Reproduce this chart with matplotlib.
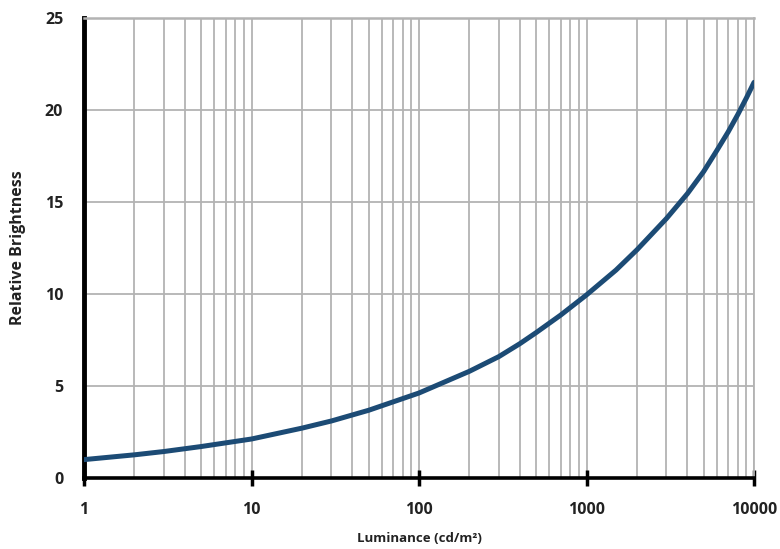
import matplotlib.pyplot as plt
import matplotlib.ticker as mticker

# -------------------------
# Data
# -------------------------
luminance = [1, 2, 3, 5, 10, 20, 30, 50, 100, 200, 300, 400, 500, 700,
             1000, 1500, 2000, 3000, 4000, 5000, 6000, 7000, 8000, 9000, 10000]
brightness = [1.0, 1.26, 1.44, 1.71, 2.12, 2.71, 3.1, 3.68, 4.62, 5.8, 6.6, 7.3, 7.9, 8.85,
              9.95, 11.3, 12.4, 14.1, 15.45, 16.65, 17.8, 18.8, 19.75, 20.65, 21.5]

x_ticks = [1, 10, 100, 1000, 10000]
x_tick_labels = ['1', '10', '100', '1000', '10000']
y_ticks = [0, 5, 10, 15, 20, 25]

plt.rcParams['font.family'] = ['Open Sans', 'DejaVu Sans']

fig = plt.figure(figsize=(7.8, 5.49), dpi=100, facecolor='white')
ax = fig.add_axes([0.1077, 0.1293, 0.859, 0.838])

grid_col = '#b3b3b3'
text_col = '#222222'

ax.plot(luminance, brightness, color='#1c4b75', linewidth=3.6,
        solid_capstyle='round', solid_joinstyle='round', zorder=3)

ax.set_xscale('log')
ax.set_xlim(1, 10000)
ax.set_ylim(0, 25)

ax.xaxis.set_major_locator(mticker.FixedLocator(x_ticks))
ax.xaxis.set_major_formatter(mticker.FixedFormatter(x_tick_labels))
ax.xaxis.set_minor_locator(mticker.LogLocator(base=10, subs=range(2, 10)))
ax.xaxis.set_minor_formatter(mticker.NullFormatter())
ax.set_yticks(y_ticks)

ax.grid(which='both', axis='x', color=grid_col, linewidth=1.3)
ax.grid(which='major', axis='y', color=grid_col, linewidth=1.3)
ax.set_axisbelow(True)

# spines
ax.spines['left'].set_color('black')
ax.spines['left'].set_linewidth(3.5)
ax.spines['bottom'].set_color('black')
ax.spines['bottom'].set_linewidth(2.6)
ax.spines['top'].set_color(grid_col)
ax.spines['top'].set_linewidth(1.8)
ax.spines['right'].set_color(grid_col)
ax.spines['right'].set_linewidth(1.3)

ax.tick_params(axis='x', which='major', direction='inout', length=11, width=2.5,
               color='black', pad=12, labelsize=11.5, labelcolor=text_col)
ax.tick_params(axis='x', which='minor', length=0)
ax.tick_params(axis='y', length=0, pad=15, labelsize=11.5, labelcolor=text_col)
for lbl in ax.get_xticklabels() + ax.get_yticklabels():
    lbl.set_fontweight('bold')

ax.set_xlabel('Luminance (cd/m²)', fontsize=9.5, fontweight='bold', color=text_col)
ax.set_ylabel('Relative Brightness', fontsize=11.5, fontweight='bold', color=text_col)
ax.xaxis.set_label_coords(0.5, -0.118)
ax.yaxis.set_label_coords(-0.086, 0.5)

plt.savefig('out.png', dpi=100, facecolor='white')
plt.close()
